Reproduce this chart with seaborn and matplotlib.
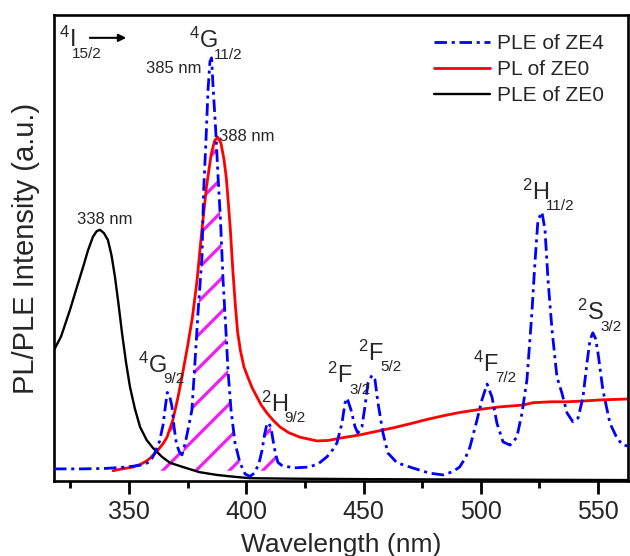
import numpy as np
import matplotlib
matplotlib.use('Agg')
import matplotlib.pyplot as plt
import seaborn as sns
from matplotlib.ticker import MultipleLocator

sns.set_style('white')
plt.rcParams['font.family'] = ['Liberation Sans', 'DejaVu Sans']
plt.rcParams['mathtext.default'] = 'regular'
plt.rcParams['hatch.linewidth'] = 2.3

# ---------------- data ----------------
ple_ze4_x = [318, 330, 340, 349, 355, 359, 361, 363, 364.5, 365.5, 366.3, 367.2, 368.3,
             369.2, 370.2, 371.5, 372.6, 373.9, 375.1, 376.8, 378.1, 379.4, 381.1, 381.8,
             382.8, 383.7, 384.5, 385.2, 385.8, 387.0, 388.0, 389.0, 390.1, 391.3, 392.2,
             393.5, 395.2, 397.3, 399.5, 401.6, 403.7, 405.5, 406.7, 407.8, 408.8, 409.5,
             410.5, 411.5, 412.5, 413.5, 415, 420, 427, 431, 434.4, 437, 438.7, 440.8,
             442.1, 443, 444.7, 446.4, 447.6, 449.3, 450.6, 451.9, 453.6, 454.9, 456.2,
             458.3, 460.4, 464.3, 471, 478, 484, 488, 491, 493.5, 495.4, 498.4, 500.5,
             502.7, 504.8, 506.9, 509.5, 512.5, 515.4, 517.6, 519.7, 521.8, 523.1, 524.4,
             526.1, 527.4, 528.7, 530.4, 532.5, 534.6, 536.8, 539.3, 541.5, 543.6, 545.3,
             546.6, 547.8, 549, 550, 552.1, 555.1, 558.1, 560.6, 563]
ple_ze4_y = [0.026, 0.026, 0.027, 0.030, 0.034, 0.041, 0.060, 0.085, 0.120, 0.160, 0.190,
             0.185, 0.160, 0.116, 0.080, 0.062, 0.056, 0.080, 0.109, 0.152, 0.253, 0.360,
             0.480, 0.620, 0.730, 0.840, 0.900, 0.908, 0.850, 0.750, 0.650, 0.560, 0.431,
             0.324, 0.238, 0.152, 0.082, 0.039, 0.015, 0.010, 0.018, 0.040, 0.065, 0.100,
             0.122, 0.125, 0.115, 0.085, 0.058, 0.040, 0.034, 0.028, 0.030, 0.038, 0.052,
             0.068, 0.082, 0.124, 0.167, 0.178, 0.152, 0.116, 0.103, 0.116, 0.159, 0.210,
             0.227, 0.217, 0.167, 0.103, 0.060, 0.039, 0.028, 0.017, 0.013, 0.020, 0.030,
             0.050, 0.073, 0.131, 0.174, 0.208, 0.180, 0.124, 0.084, 0.077, 0.094, 0.146,
             0.217, 0.360, 0.468, 0.560, 0.577, 0.539, 0.431, 0.324, 0.223, 0.189, 0.146,
             0.127, 0.135, 0.180, 0.253, 0.303, 0.318, 0.305, 0.275, 0.195, 0.124, 0.092,
             0.077, 0.075]

pl_ze0_x = [343.2, 347, 351.7, 355, 357.5, 359, 362.3, 364.5, 366.2, 368.7, 370.9, 373,
            375, 377, 379, 381, 383, 385, 386.5, 387.8, 389.2, 390.5, 391.5, 392.3, 393.2,
            394.3, 395.3, 396.3, 397.5, 399, 400.5, 402.5, 404.6, 406.5, 408.8, 411.5,
            414.4, 418, 422.9, 430.2, 435, 440, 448.5, 455, 462.6, 470, 477, 484, 491,
            500, 508, 518, 522.3, 530, 536.8, 545, 550.8, 563]
pl_ze0_y = [0.022, 0.026, 0.030, 0.036, 0.043, 0.049, 0.066, 0.080, 0.094, 0.131, 0.180,
            0.235, 0.290, 0.350, 0.430, 0.535, 0.630, 0.700, 0.730, 0.738, 0.725, 0.690,
            0.650, 0.600, 0.540, 0.450, 0.380, 0.320, 0.280, 0.245, 0.225, 0.200, 0.180,
            0.162, 0.146, 0.130, 0.116, 0.104, 0.094, 0.086, 0.087, 0.092, 0.099, 0.106,
            0.114, 0.123, 0.132, 0.140, 0.147, 0.154, 0.159, 0.163, 0.168, 0.170, 0.170,
            0.172, 0.174, 0.176]

ple_ze0_x = [318, 321, 324.8, 328, 330.4, 332.5, 334.6, 336.2, 337.6, 339.3, 341, 342.5,
             344, 345.5, 347, 348.7, 350.4, 352.5, 354.7, 357.5, 360.2, 364, 367.5, 373,
             380, 387.5, 395, 401.6, 420, 450, 500, 563]
ple_ze0_y = [0.281, 0.310, 0.367, 0.420, 0.459, 0.495, 0.524, 0.536, 0.539, 0.532, 0.517,
             0.485, 0.438, 0.380, 0.318, 0.255, 0.202, 0.155, 0.116, 0.088, 0.071, 0.052,
             0.039, 0.030, 0.019, 0.013, 0.009, 0.006, 0.005, 0.004, 0.003, 0.002]

series_labels = ['PLE of ZE4', 'PL of ZE0', 'PLE of ZE0']
x_ticks = [350, 400, 450, 500, 550]
hatch_range = (360, 415)
hatch_floor = 0.022

# term-symbol labels: (superscript, letter, subscript)
term_sup = ['4', '4', '4', '2', '2', '2', '4', '2', '2']
term_letter = ['I', 'G', 'G', 'H', 'F', 'F', 'F', 'H', 'S']
term_sub = ['15/2', '11/2', '9/2', '9/2', '3/2', '5/2', '7/2', '11/2', '3/2']
term_x = [320.2, 375.6, 353.9, 406.2, 434.4, 447.6, 496.6, 517.6, 541.0]
term_y = [0.931, 0.929, 0.232, 0.148, 0.210, 0.258, 0.234, 0.603, 0.345]

peak_text = ['385 nm', '388 nm', '338 nm']
peak_x = [369.2, 388.3, 339.7]
peak_y = [0.876, 0.730, 0.551]
peak_ha = ['center', 'left', 'center']

BLUE = '#0000FF'
RED = '#FF0000'
BLACK = '#000000'
MAGENTA = '#F01EF0'

# ---------------- figure ----------------
fig = plt.figure(figsize=(6.3, 5.56), dpi=100)
ax = fig.add_axes([54 / 630, 1 - 481 / 556, 574 / 630, 466 / 556])

# overlap (hatched) region
hx = np.array(ple_ze4_x)
hy = np.array(ple_ze4_y)
red_on_blue = np.interp(hx, pl_ze0_x, pl_ze0_y)
top = np.minimum(hy, red_on_blue)
mask = (hx >= hatch_range[0]) & (hx <= hatch_range[1]) & (top > hatch_floor)
ax.fill_between(hx, hatch_floor, top, where=mask, interpolate=True,
                facecolor='none', edgecolor=MAGENTA, hatch='/', linewidth=0, zorder=1)

sns.lineplot(x=ple_ze4_x, y=ple_ze4_y, ax=ax, color=BLUE, lw=2.0, sort=False,
             estimator=None, label=series_labels[0], zorder=3)
ax.lines[-1].set_dashes([4.5, 1.7, 1.1, 1.7])
sns.lineplot(x=pl_ze0_x, y=pl_ze0_y, ax=ax, color=RED, lw=2.0, sort=False,
             estimator=None, label=series_labels[1], zorder=2)
sns.lineplot(x=ple_ze0_x, y=ple_ze0_y, ax=ax, color=BLACK, lw=1.7, sort=False,
             estimator=None, label=series_labels[2], zorder=2)

ax.set_xlim(318, 562.8)
ax.set_ylim(0, 1)
ax.set_yticks([])
ax.set_xticks(x_ticks)
ax.xaxis.set_minor_locator(MultipleLocator(25))
ax.tick_params(axis='x', which='major', direction='out', length=9, width=2,
               labelsize=18, pad=5, bottom=True, color='black')
ax.tick_params(axis='x', which='minor', direction='out', length=5, width=2,
               bottom=True, color='black')
for sp in ax.spines.values():
    sp.set_color('black')
    sp.set_linewidth(1.9)

ax.set_xlabel('Wavelength (nm)', fontsize=19, labelpad=6)
ax.set_ylabel('PL/PLE Intensity (a.u.)', fontsize=21, labelpad=10)

ax.legend(loc='upper right', bbox_to_anchor=(0.972, 0.977), borderaxespad=0,
          frameon=False, fontsize=15, handlelength=2.7, handletextpad=0.3,
          labelspacing=0.33)

# arrow of the excitation transition
ax.annotate('', xy=(350, 0.951), xytext=(332.1, 0.951),
            arrowprops=dict(arrowstyle='-|>', color='black', lw=1.5, mutation_scale=11))

# peak wavelength labels
for s, x, y, ha in zip(peak_text, peak_x, peak_y, peak_ha):
    ax.text(x, y, s, fontsize=12, ha=ha, va='baseline')

# term symbols, subscript placed lower like the reference
fs = 17
main_texts = []
for sup, let, x, y in zip(term_sup, term_letter, term_x, term_y):
    main_texts.append(ax.text(x, y, r'$^{%s}$%s' % (sup, let), fontsize=fs,
                              ha='left', va='baseline'))
fig.canvas.draw()
renderer = fig.canvas.get_renderer()
for t, sub, x, y in zip(main_texts, term_sub, term_x, term_y):
    bb = t.get_window_extent(renderer)
    _, by = ax.transData.transform((x, y))
    ax.annotate(sub, xy=(bb.x1, by), xycoords='figure pixels', xytext=(-2.5, -7.5),
                textcoords='offset points', fontsize=11, ha='left', va='baseline')

fig.savefig('out.png', dpi=100)
